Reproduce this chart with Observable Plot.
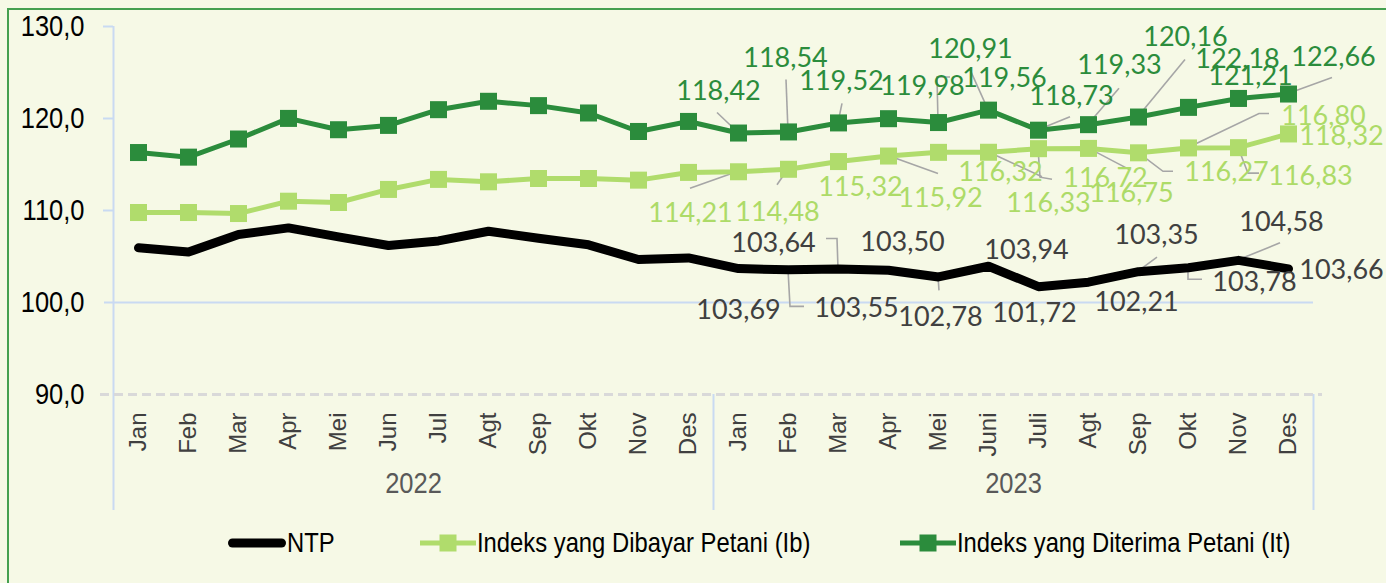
<!DOCTYPE html>
<html><head><meta charset="utf-8">
<script src="https://cdn.jsdelivr.net/npm/d3@7"></script>
<script src="https://cdn.jsdelivr.net/npm/@observablehq/plot@0.6"></script>
<style>
html,body{margin:0;padding:0;background:#f6f9e6;}
#wrap{position:relative;width:1386px;height:583px;overflow:hidden;background:#f6f9e6;}
#frame{position:absolute;left:7px;top:8px;right:-10px;bottom:-10px;border-top:2px solid #45a050;border-left:2px solid #45a050;}
#chart{position:absolute;left:0;top:0;}
.leg{position:absolute;top:520px;height:46px;display:flex;align-items:center;font-family:"Liberation Sans Narrow","Arial Narrow","Liberation Sans",sans-serif;font-size:28px;color:#000;white-space:nowrap;}
.leg svg{display:block;margin-right:1px;}
.leg span{display:inline-block;transform-origin:0 50%;}
</style></head>
<body><div id="wrap"><div id="frame"></div><div id="chart"></div><div id="legend"></div></div>
<script>
// ---- data ----
const months = ["Jan","Feb","Mar","Apr","Mei","Jun","Jul","Agt","Sep","Okt","Nov","Des",
                "Jan","Feb","Mar","Apr","Mei","Juni","Juli","Agt","Sep","Okt","Nov","Des"];
const years = ["2022","2023"];
const ntp = [105.94,105.48,107.39,108.11,107.13,106.20,106.69,107.74,106.98,106.27,104.67,104.85,
             103.69,103.55,103.64,103.50,102.78,103.94,101.72,102.21,103.35,103.78,104.58,103.66];
const ib  = [109.78,109.78,109.67,111.01,110.87,112.29,113.38,113.12,113.48,113.48,113.30,114.14,
             114.21,114.48,115.32,115.92,116.32,116.33,116.72,116.75,116.27,116.80,116.83,118.32];
const it  = [116.30,115.80,117.77,120.01,118.78,119.25,120.96,121.87,121.40,120.60,118.59,119.68,
             118.42,118.54,119.52,119.98,119.56,120.91,118.73,119.33,120.16,121.21,122.18,122.66];
const yTicks = [90,100,110,120,130];
const seriesNames = ["NTP","Indeks yang Dibayar Petani (Ib)","Indeks yang Diterima Petani (It)"];

// ---- layout (label offsets in px, leader polylines in px, for labelled months of 2023) ----
const firstLabelled = 12;
const itLayout = {
  off: [[-20,-42],[-3,-74],[3,-42],[34,-32],[66,-44],[-18,-61],[33,-34],[31,-59],[47,-80],[62,-31],[-1,-39],[45,-37]],
  lead: {0:[[0,0],[-21,-20]],1:[[0,0],[-2,-52]],2:[[0,0],[4,-19]],4:[[0,0],[-1,-45],[12,-45]],5:[[0,0],[-18,-40]],
         6:[[0,0],[32,-13]],7:[[0,0],[31,-36]],8:[[0,0],[47,-57]],11:[[0,0],[44,-16]]}
};
const ibLayout = {
  off: [[-48,42],[-11,43],[22,26],[52,42],[62,20],[60,51],[67,30],[43,45],[88,20],[135,-32],[72,29],[53,2]],
  lead: {0:[[0,0],[-48,17]],1:[[0,0],[-11,16]],3:[[0,0],[50,18]],5:[[0,0],[54,25]],6:[[0,0],[2,29],[14,31]],
         7:[[0,0],[42,22]],8:[[0,0],[25,19],[35,19]],9:[[0,0],[71,-34],[81,-34]],10:[[0,0],[10,26],[21,26]]}
};
const ntpLayout = {
  off: [[0,42],[68,39],[-65,-26],[14,-28],[2,40],[38,-16],[-4,27],[48,20],[18,-36],[66,15],[43,-38],[53,2]],
  lead: {1:[[0,0],[2,37],[16,37]],2:[[0,0],[-1,-30],[-12,-30]],4:[[0,0],[1,14]],8:[[0,0],[19,-14]],
         9:[[0,0],[0,12],[14,12]],10:[[0,0],[42,-17]]}
};

const C_NTP = "#000000", C_IB = "#b0dc6c", C_IT = "#2b8c3c";
const C_LBL_NTP = "#404040", C_LBL_IB = "#addb68", C_LBL_IT = "#2b8c3c";
const AX = "#c9daf2";
const NARROW = 0.85; // horizontal condensing for the narrow-font look
const narrow = '"Liberation Sans Narrow","Arial Narrow","Liberation Sans",sans-serif';
const labelFont = 'Lato,"Open Sans",sans-serif';

const rows = (vals) => vals.map((v, i) => ({i, v}));
const fmt2 = v => v.toFixed(2).replace(".", ",");
const fmt1 = v => v.toFixed(1).replace(".", ",");

const series = [
  {vals: ntp, layout: ntpLayout, color: C_LBL_NTP},
  {vals: ib,  layout: ibLayout,  color: C_LBL_IB},
  {vals: it,  layout: itLayout,  color: C_LBL_IT}
];

const labelMarks = [];
for (const s of series) {
  s.vals.forEach((v, i) => {
    if (i < firstLabelled) return;
    const [dx, dy] = s.layout.off[i - firstLabelled];
    labelMarks.push(Plot.text([{i, v}], {x: "i", y: "v", text: d => fmt2(d.v), dx, dy,
      fill: s.color, fontSize: 27, fontFamily: labelFont, textAnchor: "middle", lineAnchor: "middle"}));
  });
}

const leaders = (index, scales) => {
  const g = d3.create("svg:g").attr("fill", "none").attr("stroke", "#a6a6a6").attr("stroke-width", 1.6);
  for (const s of series) {
    for (const [k, pts] of Object.entries(s.layout.lead)) {
      const i = firstLabelled + +k;
      const px = scales.x(i), py = scales.y(s.vals[i]);
      g.append("path").attr("d", d3.line()(pts.map(([ox, oy]) => [px + ox, py + oy])));
    }
  }
  return g.node();
};

const idx = d3.range(months.length);
const boundaries = d3.range(years.length + 1).map(k => 12 * k - 0.5);

const chart = Plot.plot({
  width: 1386, height: 520,
  marginLeft: 113, marginRight: 73, marginTop: 26, marginBottom: 126,
  style: {background: "transparent", overflow: "visible"},
  x: {domain: [-0.5, months.length - 0.5]},
  y: {domain: [90, 130]},
  marks: [
    Plot.ruleY(yTicks.filter(t => t > 100), {stroke: AX, strokeWidth: 2, insetLeft: -10, insetRight: 1200}),
    Plot.ruleY([100], {stroke: AX, strokeWidth: 2, insetLeft: -9}),
    Plot.ruleX(boundaries.slice(0, 1), {stroke: AX, strokeWidth: 2, insetBottom: -116}),
    Plot.ruleX(boundaries.slice(1), {stroke: AX, strokeWidth: 2, insetTop: 368, insetBottom: -116}),
    Plot.ruleY([90], {stroke: "#d9d9d9", strokeWidth: 3, strokeDasharray: "9,5", insetLeft: -13, insetRight: -9}),
    Plot.axisY(yTicks, {tickSize: 0, tickPadding: 29, tickFormat: fmt1, fontSize: 30, fill: "#000",
      fontFamily: narrow, label: null}),
    Plot.axisX(idx, {tickSize: 0, tickPadding: 18, tickRotate: -90, tickFormat: i => months[i],
      fontSize: 24, fill: "#404040", fontFamily: '"Liberation Sans",Arial,sans-serif', label: null}),
    Plot.text(years, {x: (d, k) => 12 * k + 5.5, frameAnchor: "bottom", dy: 98, text: d => d,
      fontSize: 30, fill: "#595959", fontFamily: narrow}),
    leaders,
    Plot.line(rows(ntp), {x: "i", y: "v", stroke: C_NTP, strokeWidth: 9, strokeLinecap: "round", strokeLinejoin: "round"}),
    Plot.line(rows(ib), {x: "i", y: "v", stroke: C_IB, strokeWidth: 5, strokeLinejoin: "round"}),
    Plot.dot(rows(ib), {x: "i", y: "v", symbol: "square", r: 9.6, fill: C_IB}),
    Plot.line(rows(it), {x: "i", y: "v", stroke: C_IT, strokeWidth: 5, strokeLinejoin: "round"}),
    Plot.dot(rows(it), {x: "i", y: "v", symbol: "square", r: 9.6, fill: C_IT}),
    ...labelMarks
  ]
});
document.getElementById("chart").appendChild(chart);

// condense the narrow-font texts if a true narrow face is unavailable
const narrowAvailable = (() => {
  const c = document.createElement("canvas").getContext("2d");
  c.font = '30px "Liberation Sans Narrow", monospace'; const a = c.measureText("130,0 Indeks").width;
  c.font = '30px monospace'; const b = c.measureText("130,0 Indeks").width; return a !== b; })();
if (!narrowAvailable) {
  chart.querySelectorAll("text").forEach(t => {
    if (!getComputedStyle(t).fontFamily.includes("Narrow")) return;
    const L = t.getComputedTextLength();
    t.setAttribute("textLength", (L * NARROW).toFixed(1));
    t.setAttribute("lengthAdjust", "spacingAndGlyphs");
  });
}

// ---- legend ----
const legend = document.getElementById("legend");
const legItems = [
  {name: seriesNames[0], left: 228, color: C_NTP, width: 9, marker: false},
  {name: seriesNames[1], left: 420, color: C_IB, width: 5, marker: true},
  {name: seriesNames[2], left: 900, color: C_IT, width: 5, marker: true}
];
for (const it0 of legItems) {
  const div = document.createElement("div");
  div.className = "leg";
  div.style.left = it0.left + "px";
  const sw = it0.marker
    ? `<svg width="56" height="20"><line x1="0" y1="10" x2="56" y2="10" stroke="${it0.color}" stroke-width="${it0.width}"/><rect x="19.5" y="1.5" width="17" height="17" fill="${it0.color}"/></svg>`
    : `<svg width="58" height="20"><line x1="4.5" y1="10" x2="53.5" y2="10" stroke="${it0.color}" stroke-width="${it0.width}" stroke-linecap="round"/></svg>`;
  div.innerHTML = sw + `<span>${it0.name}</span>`;
  if (!narrowAvailable) div.querySelector("span").style.transform = `scaleX(${NARROW})`;
  legend.appendChild(div);
}
</script>
</body></html>
